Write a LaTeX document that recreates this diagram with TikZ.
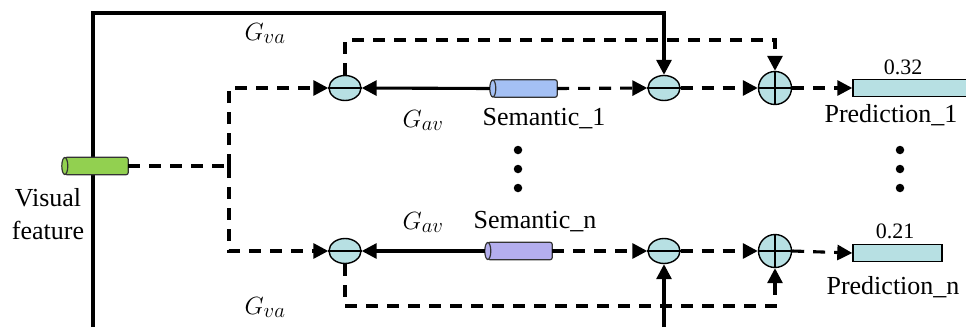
\documentclass[tikz,border=0pt]{standalone}
\usepackage{fontspec}
\setmainfont{Liberation Serif}
\usetikzlibrary{arrows.meta,shapes.geometric}
\definecolor{ecyan}{HTML}{B7E0E3}
\definecolor{semone}{HTML}{A4C0F4}
\definecolor{semenn}{HTML}{B4AEEE}
\definecolor{vgreen}{HTML}{92D050}
\begin{document}
\begin{tikzpicture}[x=1pt,y=-1pt,
  conn/.style={line width=3.1pt},
  sarrow/.style={conn,-{Triangle[length=15pt,width=15pt]}},
  dline/.style={conn,dash pattern=on 12pt off 9pt},
  darrow/.style={dline,-{Triangle[length=15pt,width=15pt]}},
  opell/.style={ellipse,draw,line width=1.4pt,fill=ecyan,minimum width=32pt,minimum height=25pt,inner sep=0},
  opplus/.style={circle,draw,line width=1.4pt,fill=ecyan,minimum size=33pt,inner sep=0},
  cylbox/.style={inner sep=0,minimum height=17pt},
  cylbody/.style={line width=1.2pt,draw=black!80},
  barbox/.style={draw,line width=1.4pt,fill=ecyan,inner sep=0,minimum height=17pt},
  lbl/.style={font=\fontsize{26}{33}\selectfont,inner sep=0},
  mlbl/.style={font=\fontsize{28}{33}\selectfont,inner sep=0},
  small/.style={font=\fontsize{22}{26}\selectfont,inner sep=0},
  dot/.style={circle,fill=black,inner sep=0,minimum size=8.5pt}
]
\useasboundingbox (0,0) rectangle (966,327);
% anchor coordinates
\coordinate (bl) at (93,327);
\coordinate (tl) at (93,13);
\coordinate (br) at (664,327);
\coordinate (split) at (229,166);
% nodes
\node[opell] (e1t) at (345,88) {};
\node[opell] (e2t) at (664,88) {};
\node[opplus] (p1) at (775,88) {};
\node[opell] (e1b) at (345,251) {};
\node[opell] (e2b) at (664,251) {};
\node[opplus] (pn) at (775,251) {};
\node[cylbox,minimum width=66pt] (vis) at (95,166) {};
\node[cylbox,minimum width=67pt] (sem1) at (523.5,88.5) {};
\node[cylbox,minimum width=67pt] (semn) at (518.5,251) {};
\node[barbox,minimum width=125pt] (bar1) at (915.5,88) {};
\node[barbox,minimum width=89pt] (barn) at (897.5,253) {};
% solid long connectors
\draw[sarrow] (bl) -- (tl) -| (e2t.north);
\draw[sarrow] (br) -- (e2b.south);
% cylinders
\foreach \c/\col in {vis/vgreen,sem1/semone,semn/semenn}{
  \draw[cylbody,fill=\col,rounded corners=2pt] ([xshift=3pt]\c.north west) rectangle (\c.south east);
  \draw[cylbody,fill=\col] ([xshift=3pt]\c.west) ellipse (3pt and 8.5pt);
}
% ellipse / plus inner lines
\foreach \e in {e1t,e2t,e1b,e2b}{\draw[line width=1.8pt] (\e.west) -- (\e.east);}
\foreach \p in {p1,pn}{\draw[line width=1.8pt] (\p.west) -- (\p.east) (\p.north) -- (\p.south);}
% dashed from visual feature
\draw[dline] (vis.east) -- (split);
\draw[darrow] (split) |- (e1t.west);
\draw[darrow] (split) |- (e1b.west);
% semantic to ellipses
\draw[sarrow] (sem1.west) -- (e1t.east);
\draw[sarrow] (semn.west) -- (e1b.east);
\draw[darrow] (sem1.east) -- (e2t.west);
\draw[darrow] (semn.east) -- (e2b.west);
\draw[darrow] (e2t.east) -- (p1.west);
\draw[darrow] (e2b.east) -- (pn.west);
\draw[darrow] (p1.east) -- (bar1.west);
\draw[darrow] (pn.east) -- (barn.west);
% residual dashed loops
\draw[darrow] (e1t.north) |- (p1.north |- 0,40) -- (p1.north);
\draw[darrow] (e1b.south) |- (pn.south |- 0,306) -- (pn.south);
% labels
\node[mlbl,anchor=base] (gva1) at (265,40) {$G_{va}$};
\node[mlbl,anchor=base] (gva2) at (265,314) {$G_{va}$};
\node[mlbl,anchor=base] (gav1) at (423,127) {$G_{av}$};
\node[mlbl,anchor=base] (gav2) at (423,229) {$G_{av}$};
\node[lbl,anchor=base] (t1) at (544,125) {Semantic\_1};
\node[lbl,anchor=base] (tn) at (535,228) {Semantic\_n};
\node[lbl,anchor=base] (pr1) at (891,122) {Prediction\_1};
\node[lbl,anchor=base] (prn) at (893,294) {Prediction\_n};
\node[small,anchor=base] (v1) at (903,74) {0.32};
\node[small,anchor=base] (vn) at (895,238) {0.21};
\node[lbl,align=center,anchor=north] (vf) at (48,188) {Visual\\feature};
% dots
\foreach \y [count=\i] in {150,169,188}{
  \node[dot] (ds\i) at (518,\y) {};
  \node[dot] (dp\i) at (900,\y) {};
}
\end{tikzpicture}
\end{document}
